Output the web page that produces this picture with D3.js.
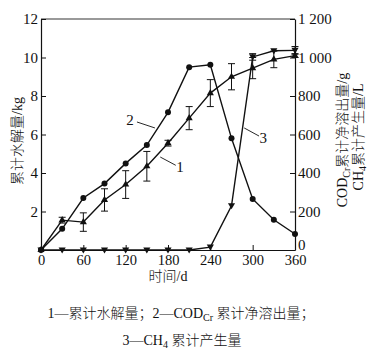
<!DOCTYPE html>
<meta charset="utf-8">
<style>
  body { margin: 0; background: #fff; }
  text { font-family: "Liberation Serif", "Noto Sans CJK SC", serif; fill: #111; }
</style>
<script src="https://d3js.org/d3.v7.min.js"></script>
<body>
<div id="chart"></div>
<script>

var days = [0, 30, 60, 90, 120, 150, 180, 210, 240, 270, 300, 330, 360];
// 1 cumulative hydrolysis, kg
var hydro = [0, 1.55, 1.45, 2.6, 3.4, 4.35, 5.55, 6.85, 8.15, 9.0, 9.45, 9.9, 10.1];
var hydroErr = [0, 0.15, 0.48, 0.58, 0.72, 0.77, 0.15, 0.6, 0.7, 0.68, 0.55, 0.43, 0.1];
// 2 COD net release, g
var cod = [0, 110, 270, 345, 450, 545, 715, 950, 962, 580, 265, 157, 83];
// 3 CH4 produced, L
var ch4 = [0, 0, 0, 0, 0, 0, 0, 0, 15, 230, 1003, 1035, 1037];
var ch4Err = [0, 0, 0, 0, 0, 0, 0, 0, 0, 0, 17, 0, 20];

var xTicks = [0, 60, 120, 180, 240, 300, 360];
var leftTicks = [2, 4, 6, 8, 10, 12];
var rightTicks = [0, 200, 400, 600, 800, 1000, 1200];
var rightTickLabels = ["0", "200", "400", "600", "800", "1 000", "1 200"];

var width = 375, height = 351;

var svg = d3.select("#chart").append("svg")
    .attr("width", width)
    .attr("height", height);

var x = d3.scaleLinear().domain([0, 360]).range([41, 295]);
var yL = d3.scaleLinear().domain([0, 12]).range([250, 19]);
var yR = d3.scaleLinear().domain([0, 1200]).range([250, 19]);

// frame
svg.append("line").attr("x1", x(0)).attr("x2", x(360)).attr("y1", yL(12)).attr("y2", yL(12))
    .attr("stroke", "#777").attr("stroke-width", 1.3);

var axB = svg.append("g").attr("transform", "translate(0," + yL(0) + ")")
    .call(d3.axisBottom(x).tickValues(xTicks).tickSizeInner(-5).tickSizeOuter(0).tickPadding(8));
var axL = svg.append("g").attr("transform", "translate(" + x(0) + ",0)")
    .call(d3.axisLeft(yL).tickValues(leftTicks).tickSizeInner(-5).tickSizeOuter(0).tickPadding(8));
var axR = svg.append("g").attr("transform", "translate(" + x(360) + ",0)")
    .call(d3.axisRight(yR).tickValues(rightTicks).tickSizeInner(-5).tickSizeOuter(0).tickPadding(8)
      .tickFormat(function(d, i) { return rightTickLabels[i]; }));

[axB, axL, axR].forEach(function(a) {
  a.select(".domain").attr("stroke", "#111").attr("stroke-width", 1.2);
  a.selectAll(".tick line").attr("stroke", "#111").attr("stroke-width", 1);
  a.selectAll("text").attr("fill", "#111").attr("font-size", 15)
      .attr("font-family", "Liberation Serif, serif");
});
axB.selectAll("text").attr("font-size", 14.5).attr("dy", "0.45em");
axL.selectAll("text").attr("x", -3);
axR.selectAll("text").attr("x", 3);
axR.selectAll(".tick").filter(function(d) { return d === 0; }).select("text").attr("dy", "-0.05em");

// line generators
var lineL = d3.line().x(function(d, i) { return x(days[i]); }).y(function(d) { return yL(d); });
var lineR = d3.line().x(function(d, i) { return x(days[i]); }).y(function(d) { return yR(d); });

var plot = svg.append("g");

function errorBars(vals, errs, scale) {
  vals.forEach(function(v, i) {
    if (!errs[i]) return;
    var cx = x(days[i]);
    var y1 = scale(v - errs[i]), y2 = scale(v + errs[i]);
    plot.append("line").attr("x1", cx).attr("x2", cx).attr("y1", y1).attr("y2", y2)
        .attr("stroke", "#111").attr("stroke-width", 1);
    [y1, y2].forEach(function(yy) {
      plot.append("line").attr("x1", cx - 3.5).attr("x2", cx + 3.5).attr("y1", yy).attr("y2", yy)
          .attr("stroke", "#111").attr("stroke-width", 1);
    });
  });
}

errorBars(hydro, hydroErr, yL);
errorBars(ch4, ch4Err, yR);

plot.append("path").datum(hydro).attr("d", lineL)
    .attr("fill", "none").attr("stroke", "#111").attr("stroke-width", 1.4);
plot.append("path").datum(cod).attr("d", lineR)
    .attr("fill", "none").attr("stroke", "#111").attr("stroke-width", 1.4);
plot.append("path").datum(ch4).attr("d", lineR)
    .attr("fill", "none").attr("stroke", "#111").attr("stroke-width", 1.4);

var triUp = d3.symbol().type(d3.symbolTriangle).size(22);

plot.selectAll(".m1").data(hydro).enter().append("path")
    .attr("d", triUp)
    .attr("transform", function(d, i) { return "translate(" + x(days[i]) + "," + yL(d) + ")"; })
    .attr("fill", "#111");
plot.selectAll(".m3").data(ch4).enter().append("path")
    .attr("d", triUp)
    .attr("transform", function(d, i) { return "translate(" + x(days[i]) + "," + (yR(d) - 0.5) + ") rotate(180)"; })
    .attr("fill", "#111");
plot.selectAll(".m2").data(cod).enter().append("circle")
    .attr("cx", function(d, i) { return x(days[i]); })
    .attr("cy", function(d) { return yR(d); })
    .attr("r", 3)
    .attr("fill", "#111");

// curve labels with leader lines (data coordinates)
var labels = [
  { t: "1", tx: 197, ty: 4.3, x1: 169, y1: 4.83, x2: 191, y2: 4.4 },
  { t: "2", tx: 126, ty: 6.75, x1: 136, y1: 6.65, x2: 161.5, y2: 6.34 },
  { t: "3", tx: 315, ty: 5.82, x1: 309, y1: 5.92, x2: 288, y2: 6.34 }
];
labels.forEach(function(l) {
  svg.append("line").attr("x1", x(l.x1)).attr("y1", yL(l.y1)).attr("x2", x(l.x2)).attr("y2", yL(l.y2))
      .attr("stroke", "#111").attr("stroke-width", 0.9);
  svg.append("text").attr("x", x(l.tx)).attr("y", yL(l.ty)).attr("dy", "0.35em")
      .attr("text-anchor", "middle").attr("font-size", 15).text(l.t);
});

// axis titles
svg.append("text").attr("transform", "translate(22,141) rotate(-90)")
    .attr("text-anchor", "middle").attr("font-size", 14).attr("font-weight", 300).text("累计水解量/kg");

var r1 = svg.append("text").attr("transform", "translate(347,140) rotate(-90)")
    .attr("text-anchor", "middle").attr("font-size", 14).attr("font-weight", 300);
r1.append("tspan").text("COD");
r1.append("tspan").attr("font-size", 10).attr("dy", 3).text("Cr");
r1.append("tspan").attr("dy", -3).text("累计净溶出量/g");

var r2 = svg.append("text").attr("transform", "translate(363,137) rotate(-90)")
    .attr("text-anchor", "middle").attr("font-size", 14).attr("font-weight", 300);
r2.append("tspan").text("CH");
r2.append("tspan").attr("font-size", 10).attr("dy", 3).text("4");
r2.append("tspan").attr("dy", -3).text("累计产生量/L");

svg.append("text").attr("x", 168).attr("y", 281).attr("text-anchor", "middle")
    .attr("font-size", 14).attr("font-weight", 300).text("时间/d");

// caption
var c1 = svg.append("text").attr("x", 181).attr("y", 318).attr("text-anchor", "middle")
    .attr("font-size", 14).attr("font-weight", 300);
c1.append("tspan").text("1—累计水解量；2—COD");
c1.append("tspan").attr("font-size", 10).attr("dy", 3).text("Cr");
c1.append("tspan").attr("dy", -3).text(" 累计净溶出量；");

var c2 = svg.append("text").attr("x", 182).attr("y", 345).attr("text-anchor", "middle")
    .attr("font-size", 14).attr("font-weight", 300);
c2.append("tspan").text("3—CH");
c2.append("tspan").attr("font-size", 10).attr("dy", 3).text("4");
c2.append("tspan").attr("dy", -3).text(" 累计产生量");

</script>
</body>
